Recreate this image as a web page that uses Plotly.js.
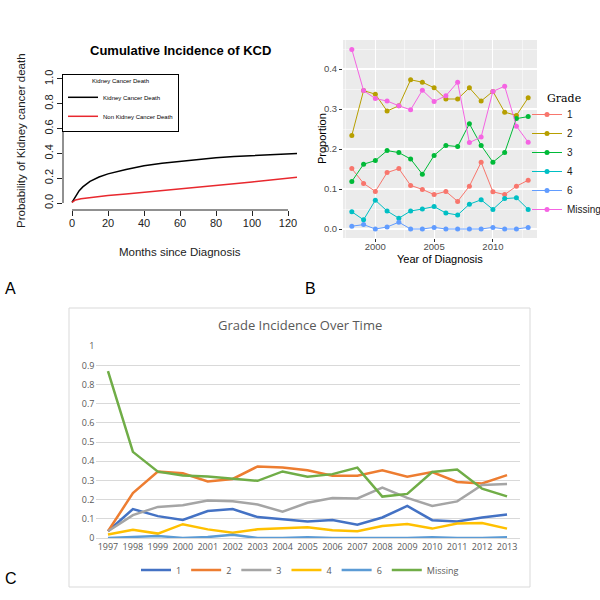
<!DOCTYPE html>
<html><head><meta charset="utf-8">
<script src="https://cdn.plot.ly/plotly-3.0.1.min.js"></script>
<style>html,body{margin:0;padding:0;background:#fff;}#chart{width:600px;height:600px;}</style>
</head><body><div id="chart"></div>
<script>
// ---------- Panel A: cumulative incidence ----------
const monthsKcd = [0,1,2,4,6,8,10,15,20,30,40,50,60,70,80,90,100,110,120,125];
const kcd       = [0.005,0.03,0.06,0.1,0.13,0.155,0.175,0.21,0.235,0.27,0.3,0.32,0.337,0.352,0.365,0.375,0.383,0.39,0.397,0.4];
const monthsNon = [0,2,5,10,20,30,40,50,60,70,80,90,100,110,120,125];
const nonKcd    = [0.005,0.025,0.035,0.045,0.06,0.072,0.085,0.1,0.113,0.127,0.14,0.155,0.17,0.185,0.2,0.208];
const seriesA   = ['Kidney Cancer Death','Non Kidney Cancer Death'];

// ---------- Panel B: proportion by grade, 1998-2013 ----------
const yearsB  = [1998,1999,2000,2001,2002,2003,2004,2005,2006,2007,2008,2009,2010,2011,2012,2013];
const gradeNames = ['1','2','3','4','6','Missing'];
const grade1  = [0.151,0.114,0.094,0.141,0.151,0.109,0.099,0.086,0.094,0.069,0.107,0.167,0.093,0.086,0.107,0.122];
const grade2  = [0.234,0.346,0.337,0.295,0.308,0.373,0.367,0.353,0.325,0.325,0.353,0.320,0.344,0.292,0.284,0.328];
const grade3  = [0.119,0.162,0.171,0.196,0.191,0.175,0.137,0.184,0.209,0.206,0.263,0.209,0.167,0.191,0.276,0.281];
const grade4  = [0.043,0.023,0.072,0.045,0.027,0.045,0.050,0.056,0.040,0.035,0.062,0.073,0.049,0.076,0.078,0.049];
const grade6  = [0.007,0.011,0.000,0.005,0.017,0.000,0.000,0.004,0.000,0.000,0.000,0.000,0.004,0.000,0.000,0.004];
const gradeMissing = [0.449,0.346,0.326,0.320,0.308,0.298,0.347,0.319,0.333,0.367,0.216,0.230,0.344,0.357,0.257,0.217];

// ---------- Panel C: same series with 1997 prepended ----------
const yearsC = ['1997','1998','1999','2000','2001','2002','2003','2004','2005','2006','2007','2008','2009','2010','2011','2012','2013'];
const values1997 = [0.035,0.035,0.035,0.018,0.0,0.87]; // grades 1,2,3,4,6,Missing

const gradeSeries = [grade1,grade2,grade3,grade4,grade6,gradeMissing];
const colorsB = ['#F8766D','#B79F00','#00BA38','#00BFC4','#619CFF','#F564E3'];
const colorsC = ['#4472C4','#ED7D31','#A5A5A5','#FFC000','#5B9BD5','#70AD47'];

const traces = [];
traces.push({x:monthsKcd,y:kcd,name:seriesA[0],mode:'lines',line:{color:'#000000',width:1.5},xaxis:'x',yaxis:'y',legend:'legend'});
traces.push({x:monthsNon,y:nonKcd,name:seriesA[1],mode:'lines',line:{color:'#E8282E',width:1.5},xaxis:'x',yaxis:'y',legend:'legend'});
gradeSeries.forEach((s,i)=>{
  traces.push({x:yearsB,y:s,name:gradeNames[i],mode:'lines+markers',line:{color:colorsB[i],width:1},marker:{color:colorsB[i],size:5},xaxis:'x2',yaxis:'y2',legend:'legend2'});
});
gradeSeries.forEach((s,i)=>{
  traces.push({x:yearsC,y:[values1997[i]].concat(s),name:gradeNames[i],mode:'lines',line:{color:colorsC[i],width:2.5},xaxis:'x3',yaxis:'y3',legend:'legend3'});
});

const P = v => v/600;          // px -> paper x
const Q = v => 1 - v/600;      // px -> paper y
const fA = 'Liberation Sans, Arial, sans-serif';
const fC = 'Open Sans, Liberation Sans, sans-serif';

const layout = {
  width:600,height:600,margin:{l:0,r:0,t:0,b:0,autoexpand:false},
  paper_bgcolor:'#ffffff',plot_bgcolor:'rgba(0,0,0,0)',
  font:{family:fA,color:'#000'},
  xaxis:{domain:[P(63),P(297)],anchor:'y',range:[-5,125],tickvals:[0,20,40,60,80,100,120],ticks:'outside',ticklen:5,tickcolor:'#222',
         showgrid:false,zeroline:false,showline:false,ticklabelstandoff:-2,tickfont:{size:11,color:'#222',family:fA}},
  yaxis:{domain:[Q(210),Q(74)],anchor:'x',range:[-0.056,1.04],tickvals:[0,0.2,0.4,0.6,0.8,1.0],tickformat:'.1f',tickangle:-90,ticks:'outside',ticklen:5,tickcolor:'#222',
         showgrid:false,zeroline:false,showline:false,tickfont:{size:11,color:'#222',family:fA}},
  xaxis2:{domain:[P(343),P(537)],anchor:'y2',range:[1997.25,2013.75],tick0:2000,dtick:5,ticks:'outside',ticklen:3,tickcolor:'#333',
          showgrid:true,gridcolor:'#ffffff',gridwidth:1.1,zeroline:false,showline:false,ticklabelstandoff:-3,tickfont:{size:9.5,color:'#4D4D4D',family:fA},
          minor:{tick0:2000,dtick:2.5,showgrid:true,gridcolor:'#ffffff',gridwidth:0.5,ticks:''}},
  yaxis2:{domain:[Q(238),Q(40)],anchor:'x2',range:[-0.0225,0.4725],tick0:0,dtick:0.1,tickformat:'.1f',ticks:'outside',ticklen:3,tickcolor:'#333',
          showgrid:true,gridcolor:'#ffffff',gridwidth:1.1,zeroline:false,showline:false,tickfont:{size:9.5,color:'#4D4D4D',family:fA},
          minor:{tick0:0,dtick:0.05,showgrid:true,gridcolor:'#ffffff',gridwidth:0.5,ticks:''}},
  xaxis3:{domain:[P(95.5),P(519.5)],anchor:'y3',type:'category',range:[-0.5,16.5],ticks:'',tickangle:0,showgrid:false,zeroline:false,
          showline:true,linecolor:'#D9D9D9',linewidth:1,tickfont:{size:9,color:'#595959',family:fC}},
  yaxis3:{domain:[Q(538),Q(346)],anchor:'x3',range:[0,1.001],tick0:0,dtick:0.1,ticks:'',showgrid:true,gridcolor:'#D9D9D9',gridwidth:1,
          zeroline:false,showline:false,tickfont:{size:9,color:'#595959',family:fC}},
  legend:{x:P(62),y:Q(74),xanchor:'left',yanchor:'top',bgcolor:'#ffffff',bordercolor:'#000000',borderwidth:1,
          font:{size:6,color:'#000',family:fA},title:{text:'Kidney Cancer Death',side:'top center',font:{size:6,family:fA}},tracegroupgap:0,itemwidth:30},
  legend2:{x:P(527),y:Q(100),xanchor:'left',yanchor:'top',bgcolor:'rgba(0,0,0,0)',font:{size:10,color:'#1a1a1a',family:fA},tracegroupgap:0},
  legend3:{orientation:'h',x:0.5,xanchor:'center',y:Q(570),yanchor:'middle',bgcolor:'rgba(0,0,0,0)',font:{size:9,color:'#595959',family:fC}},
  shapes:[
    {type:'rect',xref:'paper',yref:'paper',x0:P(343),x1:P(537),y0:Q(238),y1:Q(40),fillcolor:'#EBEBEB',line:{width:0},layer:'below'},
    {type:'rect',xref:'paper',yref:'paper',x0:P(69),x1:P(530),y0:Q(587),y1:Q(308),line:{color:'#D9D9D9',width:1},fillcolor:'rgba(0,0,0,0)',layer:'below'},
    {type:'line',xref:'x',yref:'y domain',x0:0,x1:120,y0:0,y1:0,line:{color:'#222',width:1}},
    {type:'line',xref:'x domain',yref:'y',x0:0,x1:0,y0:0,y1:1,line:{color:'#222',width:1}}
  ],
  annotations:[
    {text:'<b>Cumulative Incidence of KCD</b>',xref:'paper',yref:'paper',x:P(180),y:Q(50),xanchor:'center',yanchor:'middle',showarrow:false,font:{size:13,family:fA,color:'#000'}},
    {text:'Probability of Kidney cancer death',xref:'paper',yref:'paper',x:P(21),y:Q(141),textangle:-90,xanchor:'center',yanchor:'middle',showarrow:false,font:{size:11.5,family:fA,color:'#222'}},
    {text:'Months since Diagnosis',xref:'paper',yref:'paper',x:P(180),y:Q(252),xanchor:'center',yanchor:'middle',showarrow:false,font:{size:11.5,family:fA,color:'#222'}},
    {text:'Proportion',xref:'paper',yref:'paper',x:P(322),y:Q(139),textangle:-90,xanchor:'center',yanchor:'middle',showarrow:false,font:{size:11,family:fA,color:'#000'}},
    {text:'Year of Diagnosis',xref:'paper',yref:'paper',x:P(440),y:Q(259),xanchor:'center',yanchor:'middle',showarrow:false,font:{size:11,family:fA,color:'#000'}},
    {text:'Grade',xref:'paper',yref:'paper',x:P(545),y:Q(98),xanchor:'left',yanchor:'middle',showarrow:false,font:{size:11,family:'DejaVu Serif, serif',color:'#000'}},
    {text:'Grade Incidence Over Time',xref:'paper',yref:'paper',x:P(300),y:Q(325),xanchor:'center',yanchor:'middle',showarrow:false,font:{size:13,family:fC,color:'#595959'}},
    {text:'A',xref:'paper',yref:'paper',x:P(3),y:Q(288),xanchor:'left',yanchor:'middle',showarrow:false,font:{size:16,family:fA,color:'#000'}},
    {text:'B',xref:'paper',yref:'paper',x:P(303),y:Q(288),xanchor:'left',yanchor:'middle',showarrow:false,font:{size:16,family:fA,color:'#000'}},
    {text:'C',xref:'paper',yref:'paper',x:P(3),y:Q(578),xanchor:'left',yanchor:'middle',showarrow:false,font:{size:16,family:fA,color:'#000'}}
  ]
};
Plotly.newPlot('chart',traces,layout,{displayModeBar:false,staticPlot:true});
</script></body></html>
